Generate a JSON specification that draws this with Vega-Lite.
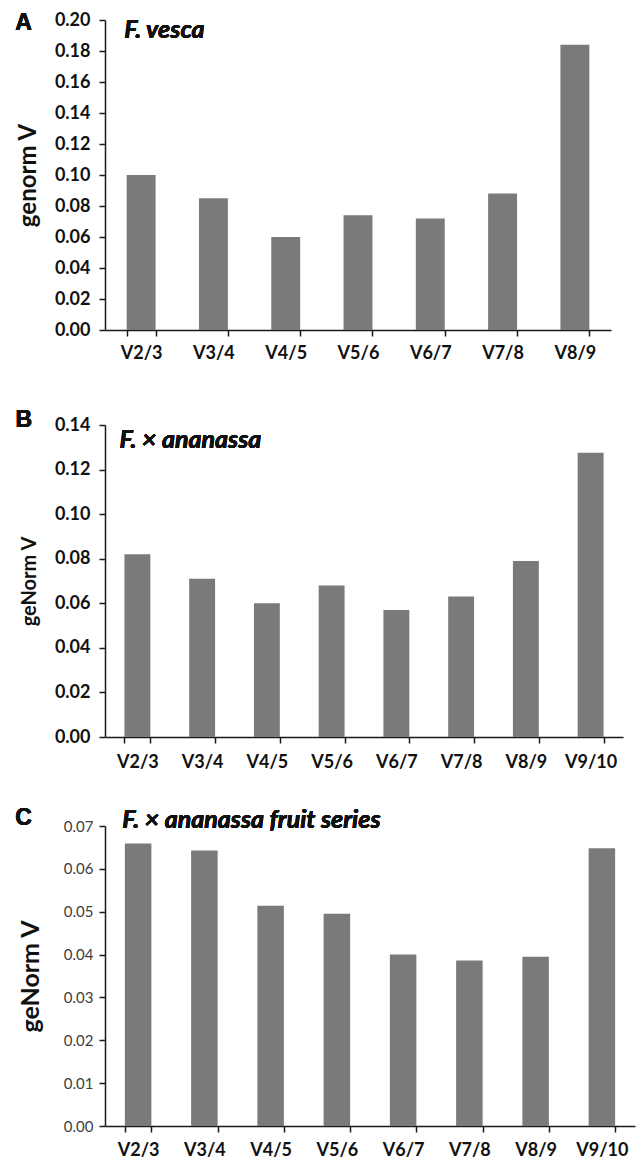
{
  "$schema": "https://vega.github.io/schema/vega-lite/v6.json",
  "padding": {"left": 15, "top": 11, "right": 5, "bottom": 5},
  "bounds": "flush",
  "spacing": 95,
  "config": {
    "view": {"stroke": null},
    "font": "Lato",
    "axis": {"domainColor": "#1a1a1a", "tickColor": "#1a1a1a", "domainWidth": 1.5, "tickWidth": 1.5, "grid": false, "labelColor": "#111111", "titleColor": "#111111", "labelFont": "Lato", "titleFont": "Lato", "labelOverlap": false}
  },
  "vconcat": [
    {
      "width": 506,
      "height": 310,
      "data": {"values": [
        {"pair": "V2/3", "v": 0.100},
        {"pair": "V3/4", "v": 0.085},
        {"pair": "V4/5", "v": 0.060},
        {"pair": "V5/6", "v": 0.074},
        {"pair": "V6/7", "v": 0.072},
        {"pair": "V7/8", "v": 0.088},
        {"pair": "V8/9", "v": 0.184}
      ]},
      "layer": [
        {
          "mark": {"type": "bar", "color": "#7a7a7a"},
          "encoding": {
            "x": {"field": "pair", "type": "nominal", "sort": null, "scale": {"paddingInner": 0.6, "paddingOuter": 0.3},
              "axis": {"title": null, "labelAngle": 0, "labelFontSize": 18, "labelFontWeight": "bold", "labelPadding": 8, "tickSize": 6, "tickBand": "extent"}},
            "y": {"field": "v", "type": "quantitative", "scale": {"domain": [0, 0.2], "nice": false},
              "axis": {"title": "genorm V", "titleFontSize": 24, "titleFontWeight": "bold", "titlePadding": 14, "labelFontSize": 18, "labelFontWeight": "bold", "labelOverlap": false, "format": ".2f", "values": [0, 0.02, 0.04, 0.06, 0.08, 0.1, 0.12, 0.14, 0.16, 0.18, 0.2], "tickCount": 20, "tickSize": 6, "labelPadding": 9}}
          }
        },
        {
          "mark": {"type": "text", "text": "F. vesca", "font": "Lato", "fontSize": 25, "fontWeight": "bold", "fontStyle": "italic", "align": "left", "baseline": "alphabetic", "dx": -17, "dy": 18, "color": "#111111"},
          "encoding": {"x": {"datum": "V2/3", "type": "nominal"}, "y": {"datum": 0.2, "type": "quantitative"}}
        },
        {
          "mark": {"type": "text", "text": "A", "font": "Liberation Sans", "fontSize": 23, "fontWeight": "bold", "align": "left", "baseline": "alphabetic", "dx": -126, "dy": 10, "color": "#111111"},
          "encoding": {"x": {"datum": "V2/3", "type": "nominal"}, "y": {"datum": 0.2, "type": "quantitative"}}
        }
      ]
    },
    {
      "bounds": "flush",
      "spacing": 89,
      "vconcat": [
        {
          "width": 518,
          "height": 312,
          "data": {"values": [
            {"pair": "V2/3", "v": 0.082},
            {"pair": "V3/4", "v": 0.071},
            {"pair": "V4/5", "v": 0.060},
            {"pair": "V5/6", "v": 0.068},
            {"pair": "V6/7", "v": 0.057},
            {"pair": "V7/8", "v": 0.063},
            {"pair": "V8/9", "v": 0.079},
            {"pair": "V9/10", "v": 0.1275}
          ]},
          "layer": [
            {
              "mark": {"type": "bar", "color": "#7a7a7a"},
              "encoding": {
                "x": {"field": "pair", "type": "nominal", "sort": null, "scale": {"paddingInner": 0.6, "paddingOuter": 0.3},
                  "axis": {"title": null, "labelAngle": 0, "labelFontSize": 18, "labelFontWeight": "bold", "labelPadding": 10, "tickSize": 6, "tickBand": "extent"}},
                "y": {"field": "v", "type": "quantitative", "scale": {"domain": [0, 0.14], "nice": false},
                  "axis": {"title": "geNorm V", "titleFontSize": 20, "titleFontWeight": "bold", "titlePadding": 15, "labelFontSize": 18, "labelFontWeight": "bold", "labelOverlap": false, "format": ".2f", "values": [0, 0.02, 0.04, 0.06, 0.08, 0.1, 0.12, 0.14], "tickCount": 20, "tickSize": 6, "labelPadding": 9}}
              }
            },
            {
              "mark": {"type": "text", "text": "F. × ananassa", "font": "Lato", "fontSize": 25, "fontWeight": "bold", "fontStyle": "italic", "align": "left", "baseline": "alphabetic", "dx": -18, "dy": 23, "color": "#111111"},
              "encoding": {"x": {"datum": "V2/3", "type": "nominal"}, "y": {"datum": 0.14, "type": "quantitative"}}
            },
            {
              "mark": {"type": "text", "text": "B", "font": "Liberation Sans", "fontSize": 23, "fontWeight": "bold", "align": "left", "baseline": "alphabetic", "dx": -122, "dy": 2, "color": "#111111"},
              "encoding": {"x": {"datum": "V2/3", "type": "nominal"}, "y": {"datum": 0.14, "type": "quantitative"}}
            }
          ]
        },
        {
          "width": 530,
          "height": 300,
          "data": {"values": [
            {"pair": "V2/3", "v": 0.0659},
            {"pair": "V3/4", "v": 0.0643},
            {"pair": "V4/5", "v": 0.0514},
            {"pair": "V5/6", "v": 0.0495},
            {"pair": "V6/7", "v": 0.0400},
            {"pair": "V7/8", "v": 0.0386},
            {"pair": "V8/9", "v": 0.0395},
            {"pair": "V9/10", "v": 0.0648}
          ]},
          "layer": [
            {
              "mark": {"type": "bar", "color": "#7a7a7a"},
              "encoding": {
                "x": {"field": "pair", "type": "nominal", "sort": null, "scale": {"paddingInner": 0.6, "paddingOuter": 0.3},
                  "axis": {"title": null, "labelAngle": 0, "labelFontSize": 18, "labelFontWeight": "bold", "labelPadding": 9, "tickSize": 6, "tickBand": "extent"}},
                "y": {"field": "v", "type": "quantitative", "scale": {"domain": [0, 0.07], "nice": false},
                  "axis": {"title": "geNorm V", "titleFontSize": 25, "titleFontWeight": "bold", "titlePadding": 20, "labelFontSize": 15, "labelFontWeight": "normal", "labelColor": "#404040", "labelOverlap": false, "format": ".2f", "values": [0, 0.01, 0.02, 0.03, 0.04, 0.05, 0.06, 0.07], "tickCount": 20, "tickSize": 6, "labelPadding": 6}}
              }
            },
            {
              "mark": {"type": "text", "text": "F. × ananassa fruit series", "font": "Lato", "fontSize": 25, "fontWeight": "bold", "fontStyle": "italic", "align": "left", "baseline": "alphabetic", "dx": -16, "dy": 2, "color": "#111111"},
              "encoding": {"x": {"datum": "V2/3", "type": "nominal"}, "y": {"datum": 0.07, "type": "quantitative"}}
            },
            {
              "mark": {"type": "text", "text": "C", "font": "Liberation Sans", "fontSize": 23, "fontWeight": "bold", "align": "left", "baseline": "alphabetic", "dx": -123, "dy": -1, "color": "#111111"},
              "encoding": {"x": {"datum": "V2/3", "type": "nominal"}, "y": {"datum": 0.07, "type": "quantitative"}}
            }
          ]
        }
      ]
    }
  ]
}
